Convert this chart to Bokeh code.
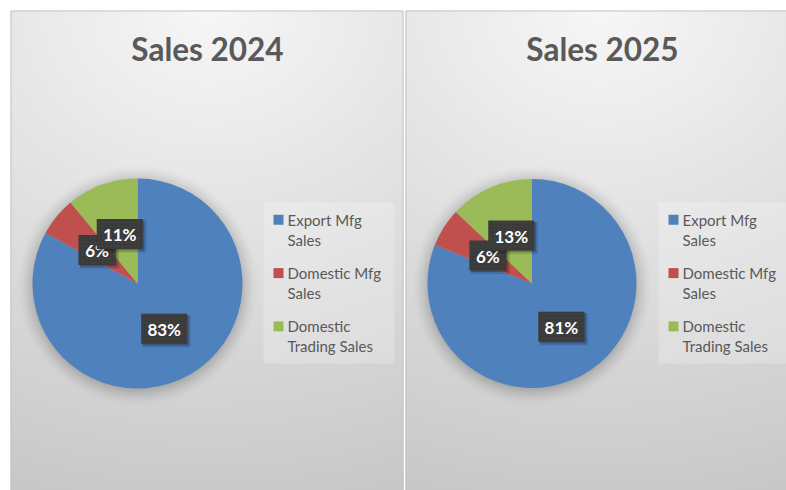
import numpy as np
from bokeh.plotting import figure
from bokeh.models import Range1d
from bokeh.core.properties import value
from bokeh.embed import file_html
from bokeh.resources import INLINE

# ---------------- data ----------------
titles = ["Sales 2024", "Sales 2025"]
categories = ["Export Mfg Sales", "Domestic Mfg Sales", "Domestic Trading Sales"]
legend_lines = [["Export Mfg", "Sales"], ["Domestic Mfg", "Sales"], ["Domestic", "Trading Sales"]]
sales_2024 = [83, 6, 11]
sales_2025 = [81, 6, 13]
series = [sales_2024, sales_2025]
colors = ["#4F81BD", "#C0504D", "#9BBB59"]

# ---------------- layout (page pixels) ----------------
W, H = 786, 490
def X(px):
    return px
def Y(py):
    return H - py

PW = 393
panels = [
    dict(left=10, cx=137.0, cy=283.0, r=105.0, legend_x=263),
    dict(left=405, cx=531.5, cy=283.0, r=104.5, legend_x=658),
]
FONT = value("Lato")

p = figure(width=W, height=H, x_range=Range1d(0, W), y_range=Range1d(0, H),
           x_axis_type=None, y_axis_type=None, output_backend="svg",
           toolbar_location=None, min_border=0)
p.grid.visible = False
p.outline_line_color = None
p.background_fill_color = "white"
p.border_fill_color = "white"

# ---------------- background gradient + pie shadow ----------------
jj, ii = np.mgrid[0:H, 0:W]
px = ii + 0.5
py = jj + 0.5
val = np.full((H, W), 255.0)
for pn in panels:
    left = pn["left"]
    mask = (px >= left) & (px < left + PW) & (py >= 10)
    cxp = left + PW / 2.0
    dx = px - cxp
    dy = py - 10
    drop = np.sqrt((dx * 15.0 / 195.0) ** 2 + (dy * 44.0 / 470.0) ** 2)
    v = 247.0 - drop
    d = np.hypot(px - pn["cx"], py - (pn["cy"] + 2)) - pn["r"]
    sh = np.clip(1 - (d + 1) / 17.0, 0, 1) ** 1.6 * 40.0
    v = v - sh
    val[mask] = v[mask]
img = np.empty((H, W), dtype=np.uint32)
view = img.view(dtype=np.uint8).reshape((H, W, 4))
vv = np.clip(val[::-1], 0, 255).astype(np.uint8)
view[:, :, 0] = vv
view[:, :, 1] = vv
view[:, :, 2] = vv
view[:, :, 3] = 255
p.image_rgba(image=[img], x=0, y=0, dw=W, dh=H)

# panel borders
for pn in panels:
    left = pn["left"]
    p.quad(left=X(left + 0.5), right=X(left + PW - 0.5), top=Y(10.5), bottom=Y(500),
           fill_color=None, line_color="#C4C4C4", line_width=1)

# ---------------- pies ----------------
for k, pn in enumerate(panels):
    vals = np.array(series[k], dtype=float)
    fr = vals / vals.sum()
    cum = np.concatenate([[0.0], np.cumsum(fr)])
    start = np.pi / 2 - cum[1:] * 2 * np.pi
    end = np.pi / 2 - cum[:-1] * 2 * np.pi
    p.wedge(x=[X(pn["cx"])] * 3, y=[Y(pn["cy"])] * 3, radius=pn["r"],
            start_angle=list(start), end_angle=list(end),
            fill_color=colors, line_color=None)

    # title
    p.text(x=[X(pn["left"] + PW / 2.0 + 0.5)], y=[Y(48.5)], text=[titles[k]],
           text_font=FONT, text_font_size="31.5px", text_font_style="bold",
           text_color="#595959", text_align="center", text_baseline="alphabetic")

    # data labels at half radius along mid-angle
    mids = (start + end) / 2
    for i in range(3):
        lx = X(pn["cx"]) + 0.5 * pn["r"] * np.cos(mids[i])
        ly = Y(pn["cy"]) + 0.5 * pn["r"] * np.sin(mids[i])
        lab = f"{series[k][i]:.0f}%"
        bw = 9 * len(lab) + 19
        bh = 30
        p.rect(x=[lx + 2.5], y=[ly - 2.5], width=bw + 2, height=bh + 2,
               fill_color="black", fill_alpha=0.15, line_color=None)
        p.rect(x=[lx + 1.5], y=[ly - 1.5], width=bw, height=bh,
               fill_color="black", fill_alpha=0.22, line_color=None)
        p.rect(x=[lx], y=[ly], width=bw, height=bh,
               fill_color="#3A3A3A", line_color=None,
               hatch_pattern="dot", hatch_color="#444444", hatch_scale=4, hatch_weight=1)
        p.text(x=[lx], y=[ly - 0.5], text=[lab], text_font=FONT,
               text_font_size="17px", text_font_style="bold", text_color="white",
               text_align="center", text_baseline="middle")

    # legend
    lxp = pn["legend_x"]
    p.quad(left=X(lxp), right=X(lxp + 131), top=Y(202), bottom=Y(363),
           fill_color="white", fill_alpha=0.22, line_color=None)
    for i in range(3):
        base = 225 + 53.3 * i
        p.rect(x=[X(lxp + 15)], y=[Y(base - 5.7)], width=10, height=10,
               fill_color=colors[i], line_color=None)
        for j, line in enumerate(legend_lines[i]):
            p.text(x=[X(lxp + 24)], y=[Y(base - 6 + 20.3 * j)], text=[line],
                   text_font=FONT, text_font_size="15px", text_color="#595959",
                   text_align="left", text_baseline="alphabetic")

open("out.html", "w").write(file_html(p, INLINE))
